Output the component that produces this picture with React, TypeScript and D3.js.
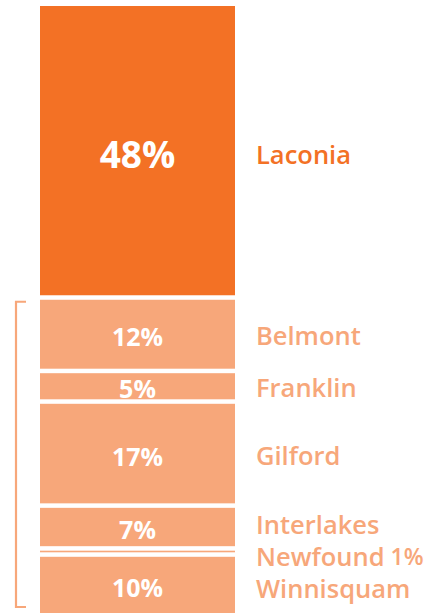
import * as d3 from 'd3';
import React from 'react';

const towns = ['Laconia', 'Belmont', 'Franklin', 'Gilford', 'Interlakes', 'Newfound', 'Winnisquam'];
const shares = [48, 12, 5, 17, 7, 1, 10];

const width = 440;
const height = 613;
const barLeft = 40;
const barRight = 235;
const gap = 4.5;
const labelX = 256;
const minLabelSpacing = 32;
const darkOrange = '#F37125';
const lightOrange = '#F7A77A';

// spread labels that would collide, keeping each cluster centred on its segments
function dodge(wanted: number[], spacing: number) {
  let clusters = wanted.map((v, i) => ({ start: i, n: 1, mean: v }));
  let moved = true;
  while (moved) {
    moved = false;
    for (let i = 1; i < clusters.length; i++) {
      const a = clusters[i - 1];
      const b = clusters[i];
      const aEnd = a.mean + ((a.n - 1) / 2) * spacing;
      const bStart = b.mean - ((b.n - 1) / 2) * spacing;
      if (bStart - aEnd < spacing) {
        const n = a.n + b.n;
        clusters.splice(i - 1, 2, { start: a.start, n, mean: (a.mean * a.n + b.mean * b.n) / n });
        moved = true;
        break;
      }
    }
  }
  const out: number[] = [];
  clusters.forEach(c => {
    for (let k = 0; k < c.n; k++) out.push(c.mean + (k - (c.n - 1) / 2) * spacing);
  });
  return out;
}

export default function App() {
  const y = d3.scaleLinear().domain([0, 100]).range([613.5, 1.5]);

  const tops = shares.map((_, i) => 100 - d3.sum(shares.slice(0, i)));
  const segs = shares.map((v, i) => {
    const y0 = y(tops[i]) + gap;
    const y1 = y(tops[i] - v);
    return { town: towns[i], value: v, y0, y1, mid: (y0 + y1) / 2 };
  });

  const labelY = dodge(segs.map(s => s.mid), minLabelSpacing);
  const rest = segs.slice(1);
  const bracketTop = rest[0].y0 + 2;
  const bracketBottom = 607;

  return (
    <div style={{ position: 'absolute', left: 0, top: 0 }}>
      <svg width={width} height={height} style={{ display: 'block', fontFamily: '"Open Sans", sans-serif' }}>
        {segs.map((s, i) => (
          <rect
            key={s.town}
            x={barLeft}
            y={s.y0}
            width={barRight - barLeft}
            height={Math.max(0, s.y1 - s.y0)}
            fill={i === 0 ? darkOrange : lightOrange}
          />
        ))}
        {segs.map((s, i) =>
          s.y1 - s.y0 > 20 ? (
            <text
              key={'v' + s.town}
              x={(barLeft + barRight) / 2}
              y={s.mid + (i === 0 ? 3 : 2)}
              textAnchor="middle"
              dominantBaseline="central"
              fill="#fff"
              fontWeight={700}
              fontSize={i === 0 ? 37 : 25}
            >
              {s.value}%
            </text>
          ) : null
        )}
        {segs.map((s, i) => (
          <text
            key={'l' + s.town}
            x={labelX}
            y={labelY[i] + (i === 0 ? 3 : 1)}
            dominantBaseline="central"
            fill={i === 0 ? darkOrange : lightOrange}
            fontWeight={600}
            fontSize={25.5}
          >
            {s.town}
            {s.y1 - s.y0 <= 20 ? (
              <tspan dx={6} fontSize={23}>
                {s.value}%
              </tspan>
            ) : null}
          </text>
        ))}
        <path
          d={`M26,${bracketTop}H16V${bracketBottom}H26`}
          fill="none"
          stroke={lightOrange}
          strokeWidth={2.2}
        />
      </svg>
    </div>
  );
}
